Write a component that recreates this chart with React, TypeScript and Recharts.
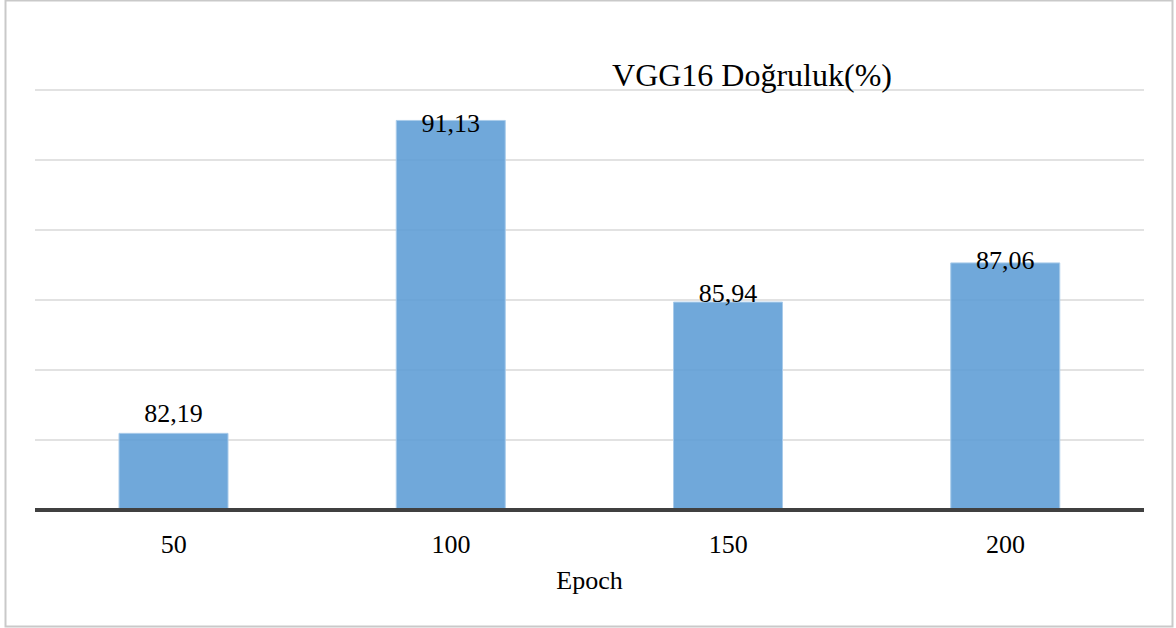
import * as React from 'react';
import { BarChart, Bar, XAxis, YAxis, CartesianGrid, LabelList, Label } from 'recharts';

const epochs = ['50', '100', '150', '200'];
const accuracy = [82.19, 91.13, 85.94, 87.06];
const yTicks = [80, 82, 84, 86, 88, 90, 92];

// label nudges relative to bar top (the source had them placed by hand)
const labelDy = [-11, 12, 0, 6];

const FONT = "'Liberation Serif', 'Times New Roman', serif";

const data = epochs.map((e, i) => ({ epoch: e, acc: accuracy[i] }));

const renderLabel = (props: any) => {
  const { x, y, width, value, index } = props;
  return (
    <text
      x={Number(x) + Number(width) / 2}
      y={Number(y) + labelDy[index]}
      textAnchor="middle"
      style={{ fontFamily: FONT, fontSize: 26 }}
      fill="#000"
    >
      {String(value).replace('.', ',')}
    </text>
  );
};

const renderTick = (props: any) => {
  const { x, y, payload } = props;
  return (
    <text x={x} y={y + 35} textAnchor="middle" style={{ fontFamily: FONT, fontSize: 26 }} fill="#000">
      {payload.value}
    </text>
  );
};

export default function App() {
  return (
    <div style={{ position: 'absolute', left: 0, top: 0, width: 1176, height: 628, background: '#fff' }}>
      <BarChart
        width={1176}
        height={628}
        data={data}
        margin={{ top: 90, right: 32, bottom: 34, left: 35 }}
      >
        <CartesianGrid vertical={false} stroke="#d9d9d9" strokeWidth={1.5} />
        <YAxis hide domain={[80, 92]} ticks={yTicks} />
        <XAxis
          dataKey="epoch"
          axisLine={{ stroke: '#404040', strokeWidth: 4 }}
          tickLine={false}
          tick={renderTick}
          height={84}
        >
          <Label
            value="Epoch"
            position="insideBottom"
            offset={5}
            style={{ fontFamily: FONT, fontSize: 26, fill: '#000' }}
          />
        </XAxis>
        <Bar
          dataKey="acc"
          barSize={109}
          fill="#5b9bd5"
          fillOpacity={0.87}
          stroke="#a9cbea"
          strokeWidth={1}
          isAnimationActive={false}
        >
          <LabelList dataKey="acc" content={renderLabel} />
        </Bar>
      </BarChart>
      <svg
        width={1176}
        height={628}
        style={{ position: 'absolute', left: 0, top: 0, pointerEvents: 'none' }}
      >
        <rect x={5.5} y={0.5} width={1167} height={626} fill="none" stroke="#c9c9c9" strokeWidth={2} />
        <text x={752} y={86} textAnchor="middle" style={{ fontFamily: FONT, fontSize: 32 }} fill="#000">
          VGG16 Doğruluk(%)
        </text>
      </svg>
    </div>
  );
}
